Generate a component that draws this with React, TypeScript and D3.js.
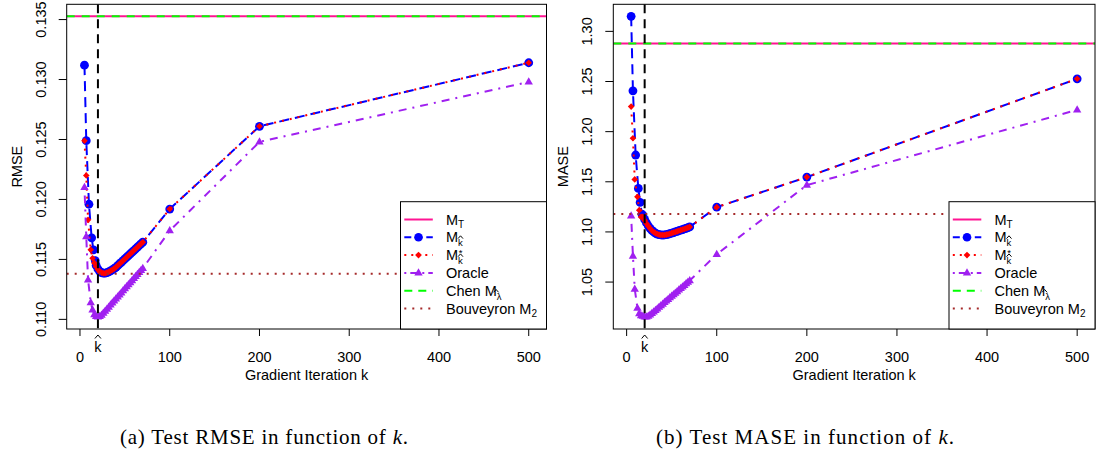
import React from "react";
import * as d3 from "d3";

// ---------------- data ----------------
const kSmallMk = [5, 7, 10, 13, 15, 17];
const kSmallMkStar = [5, 7, 9, 12, 14, 16];
const kSmallOracle = [5, 7, 9, 12, 14, 16];
const kDense = [18, 20, 22, 24, 26, 28, 30, 32, 34, 36, 38, 40, 42, 44, 46, 48, 50, 52, 54, 56, 58, 60, 62, 64, 66, 68, 70];
const kFar = [100, 200, 500];
const kHat = 20;
const xTicks = [0, 100, 200, 300, 400, 500];

// RMSE panel
const rmseMkSmall = [0.1312, 0.1249, 0.1196, 0.1168, 0.1158, 0.1149];
const rmseMkDense = [0.1145, 0.1142, 0.114, 0.1139, 0.11385, 0.11385, 0.1139, 0.11396, 0.11404, 0.11413, 0.11423, 0.11434, 0.11448, 0.11462, 0.11476, 0.1149, 0.11504, 0.11518, 0.11532, 0.11546, 0.1156, 0.11574, 0.11588, 0.11602, 0.11616, 0.1163, 0.11644];
const rmseMkFar = [0.1192, 0.1261, 0.1314];
const rmseMkStarSmall = [0.1249, 0.122, 0.1183, 0.1158, 0.1151, 0.1147];
const rmseMkStarDense = [0.1144, 0.11415, 0.11398, 0.1139, 0.11385, 0.11385, 0.1139, 0.11396, 0.11404, 0.11413, 0.11423, 0.11434, 0.11448, 0.11462, 0.11476, 0.1149, 0.11504, 0.11518, 0.11532, 0.11546, 0.1156, 0.11574, 0.11588, 0.11602, 0.11616, 0.1163, 0.11644];
const rmseMkStarFar = [0.1192, 0.1261, 0.1314];
const rmseOracleSmall = [0.121, 0.1169, 0.1133, 0.1114, 0.1108, 0.1104];
const rmseOracleDense = [0.11025, 0.1102, 0.11025, 0.11035, 0.11052, 0.11069, 0.11086, 0.11103, 0.1112, 0.11137, 0.11154, 0.11171, 0.11188, 0.11205, 0.11222, 0.11239, 0.11256, 0.11273, 0.1129, 0.11307, 0.11324, 0.11341, 0.11358, 0.11375, 0.11392, 0.11409, 0.11426];
const rmseOracleFar = [0.1174, 0.1248, 0.1298];
const rmseMT = 0.13527;
const rmseChen = 0.13527;
const rmseBouveyron = 0.1138;
const rmseTicks = [0.11, 0.115, 0.12, 0.125, 0.13, 0.135];

// MASE panel
const maseMkSmall = [1.315, 1.2407, 1.1767, 1.1434, 1.1294, 1.1177];
const maseMkDense = [1.1165, 1.1125, 1.109, 1.106, 1.1035, 1.1015, 1.1, 1.0988, 1.0979, 1.0973, 1.097, 1.0969, 1.097, 1.0973, 1.0977, 1.0982, 1.0988, 1.0994, 1.1, 1.1006, 1.1012, 1.1018, 1.1024, 1.103, 1.1036, 1.1043, 1.105];
const maseMkFar = [1.1247, 1.1547, 1.2527];
const maseMkStarSmall = [1.225, 1.1934, 1.1524, 1.135, 1.1217, 1.115];
const maseMkStarDense = [1.115, 1.1115, 1.1085, 1.1058, 1.1035, 1.1015, 1.1, 1.0988, 1.0979, 1.0973, 1.097, 1.0969, 1.097, 1.0973, 1.0977, 1.0982, 1.0988, 1.0994, 1.1, 1.1006, 1.1012, 1.1018, 1.1024, 1.103, 1.1036, 1.1043, 1.105];
const maseMkStarFar = [1.1247, 1.1547, 1.2527];
const maseOracleSmall = [1.116, 1.076, 1.043, 1.024, 1.0185, 1.0165];
const maseOracleDense = [1.016, 1.0152, 1.0152, 1.016, 1.0172, 1.0188, 1.0203, 1.0219, 1.0234, 1.025, 1.0266, 1.0281, 1.0297, 1.0312, 1.0328, 1.0344, 1.0359, 1.0375, 1.039, 1.0406, 1.0422, 1.0437, 1.0453, 1.0468, 1.0484, 1.05, 1.0515];
const maseOracleFar = [1.0777, 1.1467, 1.2217];
const maseMT = 1.288;
const maseChen = 1.288;
const maseBouveyron = 1.118;
const maseTicks = [1.05, 1.1, 1.15, 1.2, 1.25, 1.3];

// ---------------- styles ----------------
const COL_MT = "#FF1493";
const COL_MK = "#0000FF";
const COL_MKS = "#FF0000";
const COL_OR = "#A020F0";
const COL_CHEN = "#00FF00";
const COL_BOUV = "#A52A2A";
const SANS = "'Liberation Sans', Arial, Helvetica, sans-serif";
const SERIF = "'Liberation Serif', 'Times New Roman', serif";

type Pt = [number, number];
const zip = (ks: number[], vs: number[]): Pt[] => ks.map((k, i) => [k, vs[i]] as Pt);

const diamond = (cx: number, cy: number, r: number) =>
  `M${cx},${cy - r}L${cx + r},${cy}L${cx},${cy + r}L${cx - r},${cy}Z`;
const triangle = (cx: number, cy: number, s: number) =>
  `M${cx},${cy - s * 1.05}L${cx + s * 0.95},${cy + s * 0.6}L${cx - s * 0.95},${cy + s * 0.6}Z`;
const hat = (cx: number, top: number, w: number, h: number) =>
  `M${cx - w / 2},${top + h}L${cx},${top}L${cx + w / 2},${top + h}`;

interface PanelProps {
  id: string;
  x0: number; x1: number; y0: number; y1: number;
  mk: Pt[]; mks: Pt[]; oracle: Pt[];
  mT: number; chen: number; bouv: number;
  yTicks: number[]; yDigits: number; yLabel: string;
}

function Legend({ bx, by, bw, bh }: { bx: number; by: number; bw: number; bh: number }) {
  const step = 17.8;
  const r0 = by + 17.8;
  const lx0 = bx + 3.8, lx1 = bx + 32.3, sx = bx + 18, tx = bx + 45.5;
  const fs = 14.5;
  const mw = 12.1; // width of "M"
  const rows = [0, 1, 2, 3, 4, 5].map((i) => r0 + i * step);
  const chenW = 47.5; // width of "Chen M"
  return (
    <g>
      <rect x={bx} y={by} width={bw} height={bh} fill="#fff" stroke="#000" strokeWidth={1} />
      {/* M_T */}
      <line x1={lx0} x2={lx1} y1={rows[0]} y2={rows[0]} stroke={COL_MT} strokeWidth={2} />
      <text x={tx} y={rows[0] + 5} fontSize={fs} fontFamily={SANS}>M<tspan fontSize={10} dy={3}>T</tspan></text>
      {/* M_khat */}
      <line x1={lx0} x2={lx1} y1={rows[1]} y2={rows[1]} stroke={COL_MK} strokeWidth={2} strokeDasharray="7,4" />
      <circle cx={sx} cy={rows[1]} r={4.3} fill={COL_MK} />
      <text x={tx} y={rows[1] + 5} fontSize={fs} fontFamily={SANS}>M<tspan fontSize={9.5} dy={3.5}>k</tspan></text>
      <path d={hat(tx + mw + 2.4, rows[1] - 1.5, 5, 2.8)} fill="none" stroke="#000" strokeWidth={1} />
      {/* M_khat* */}
      <line x1={lx0} x2={lx1} y1={rows[2]} y2={rows[2]} stroke={COL_MKS} strokeWidth={2} strokeDasharray="2,5" />
      <path d={diamond(sx, rows[2], 3.4)} fill={COL_MKS} />
      <text x={tx} y={rows[2] + 5} fontSize={fs} fontFamily={SANS}>M<tspan fontSize={9.5} dy={3.8}>k</tspan></text>
      <path d={hat(tx + mw + 2.4, rows[2] - 1.2, 5, 2.8)} fill="none" stroke="#000" strokeWidth={1} />
      <text x={tx + mw + 2.6} y={rows[2] + 0.8} fontSize={9.5} fontFamily={SANS} textAnchor="middle">*</text>
      {/* Oracle */}
      <line x1={lx0} x2={lx1} y1={rows[3]} y2={rows[3]} stroke={COL_OR} strokeWidth={2} strokeDasharray="2,4,8,4" />
      <path d={triangle(sx, rows[3], 4.4)} fill={COL_OR} />
      <text x={tx} y={rows[3] + 5} fontSize={fs} fontFamily={SANS}>Oracle</text>
      {/* Chen */}
      <line x1={lx0} x2={lx1} y1={rows[4]} y2={rows[4]} stroke={COL_CHEN} strokeWidth={2} strokeDasharray="8,6" />
      <text x={tx} y={rows[4] + 5} fontSize={fs} fontFamily={SANS}>Chen M<tspan fontSize={9.5} dy={3.8}>λ</tspan></text>
      <path d={hat(tx + chenW + 2.6, rows[4] - 1.2, 5, 2.8)} fill="none" stroke="#000" strokeWidth={1} />
      {/* Bouveyron */}
      <line x1={lx0} x2={lx1} y1={rows[5]} y2={rows[5]} stroke={COL_BOUV} strokeWidth={2} strokeDasharray="2,6" />
      <text x={tx} y={rows[5] + 5} fontSize={fs} fontFamily={SANS}>Bouveyron M<tspan fontSize={10} dy={3}>2</tspan></text>
    </g>
  );
}

function Panel(p: PanelProps) {
  const { x0, x1, y0, y1 } = p;
  const allK = [...p.mk, ...p.mks, ...p.oracle].map((d) => d[0]);
  const [kmin, kmax] = d3.extent(allK) as [number, number];
  const kpad = (kmax - kmin) * 0.04;
  const x = d3.scaleLinear().domain([kmin - kpad, kmax + kpad]).range([x0, x1]);
  const allV = [...p.mk, ...p.mks, ...p.oracle].map((d) => d[1]).concat([p.mT, p.chen, p.bouv]);
  const [vmin, vmax] = d3.extent(allV) as [number, number];
  const vpad = (vmax - vmin) * 0.04;
  const y = d3.scaleLinear().domain([vmin - vpad, vmax + vpad]).range([y1, y0]);
  const line = d3.line<Pt>().x((d) => x(d[0])).y((d) => y(d[1]));
  const fmt = d3.format(`.${p.yDigits}f`);
  const clip = `clip-${p.id}`;
  const cx = (x0 + x1) / 2;
  const cy = (y0 + y1) / 2;
  return (
    <g>
      <defs>
        <clipPath id={clip}>
          <rect x={x0} y={y0} width={x1 - x0} height={y1 - y0} />
        </clipPath>
      </defs>
      <g clipPath={`url(#${clip})`}>
        {/* series M_khat */}
        <path d={line(p.mk) || ""} fill="none" stroke={COL_MK} strokeWidth={2} strokeDasharray="10,6" />
        {p.mk.map((d, i) => (
          <circle key={`mk${i}`} cx={x(d[0])} cy={y(d[1])} r={4.4} fill={COL_MK} />
        ))}
        {/* series M_khat* */}
        <path d={line(p.mks) || ""} fill="none" stroke={COL_MKS} strokeWidth={2} strokeDasharray="2,6" />
        {p.mks.map((d, i) => (
          <path key={`mks${i}`} d={diamond(x(d[0]), y(d[1]), 3.3)} fill={COL_MKS} />
        ))}
        {/* Oracle */}
        <path d={line(p.oracle) || ""} fill="none" stroke={COL_OR} strokeWidth={2} strokeDasharray="2,6,8,6" />
        {p.oracle.map((d, i) => (
          <path key={`or${i}`} d={triangle(x(d[0]), y(d[1]), 4.4)} fill={COL_OR} />
        ))}
        {/* horizontal references */}
        <line x1={x0} x2={x1} y1={y(p.mT)} y2={y(p.mT)} stroke={COL_MT} strokeWidth={2} />
        <line x1={x0} x2={x1} y1={y(p.chen)} y2={y(p.chen)} stroke={COL_CHEN} strokeWidth={2} strokeDasharray="8,7" />
        <line x1={x0} x2={x1} y1={y(p.bouv)} y2={y(p.bouv)} stroke={COL_BOUV} strokeWidth={2} strokeDasharray="2,6" />
        {/* k hat */}
        <line x1={x(kHat)} x2={x(kHat)} y1={y0} y2={y1} stroke="#000" strokeWidth={2} strokeDasharray="9,6" />
      </g>
      <rect x={x0} y={y0} width={x1 - x0} height={y1 - y0} fill="none" stroke="#000" strokeWidth={1} />
      {/* x axis */}
      {xTicks.map((t) => (
        <g key={`xt${t}`}>
          <line x1={x(t)} x2={x(t)} y1={y1} y2={y1 + 7} stroke="#000" strokeWidth={1} />
          <text x={x(t)} y={y1 + 33} fontSize={14.5} fontFamily={SANS} textAnchor="middle">{t}</text>
        </g>
      ))}
      <path d={hat(x(kHat), y1 + 6, 6, 3.5)} fill="none" stroke="#000" strokeWidth={1} />
      <text x={x(kHat)} y={y1 + 23} fontSize={14.5} fontFamily={SANS} textAnchor="middle">k</text>
      <text x={cx} y={y1 + 51} fontSize={14.5} fontFamily={SANS} textAnchor="middle">Gradient Iteration k</text>
      {/* y axis */}
      {p.yTicks.map((t) => (
        <g key={`yt${t}`}>
          <line x1={x0 - 8} x2={x0} y1={y(t)} y2={y(t)} stroke="#000" strokeWidth={1} />
          <text transform={`translate(${x0 - 21},${y(t)}) rotate(-90)`} fontSize={14.5} fontFamily={SANS} textAnchor="middle">{fmt(t)}</text>
        </g>
      ))}
      <text transform={`translate(${x0 - 45},${cy}) rotate(-90)`} fontSize={14.5} fontFamily={SANS} textAnchor="middle">{p.yLabel}</text>
      <Legend bx={x1 - 146} by={201.7} bw={146} bh={y1 - 201.7} />
    </g>
  );
}

export default function App() {
  const rmseMk = [...zip(kSmallMk, rmseMkSmall), ...zip(kDense, rmseMkDense), ...zip(kFar, rmseMkFar)];
  const rmseMks = [...zip(kSmallMkStar, rmseMkStarSmall), ...zip(kDense, rmseMkStarDense), ...zip(kFar, rmseMkStarFar)];
  const rmseOr = [...zip(kSmallOracle, rmseOracleSmall), ...zip(kDense, rmseOracleDense), ...zip(kFar, rmseOracleFar)];
  const maseMk = [...zip(kSmallMk, maseMkSmall), ...zip(kDense, maseMkDense), ...zip(kFar, maseMkFar)];
  const maseMks = [...zip(kSmallMkStar, maseMkStarSmall), ...zip(kDense, maseMkStarDense), ...zip(kFar, maseMkStarFar)];
  const maseOr = [...zip(kSmallOracle, maseOracleSmall), ...zip(kDense, maseOracleDense), ...zip(kFar, maseOracleFar)];
  return (
    <svg width={1096} height={459} style={{ position: "absolute", left: 0, top: 0, background: "#fff" }}>
      <rect x={0} y={0} width={1096} height={459} fill="#fff" />
      <Panel id="rmse" x0={66.7} x1={546.5} y0={4.3} y1={329} mk={rmseMk} mks={rmseMks} oracle={rmseOr}
        mT={rmseMT} chen={rmseChen} bouv={rmseBouveyron} yTicks={rmseTicks} yDigits={3} yLabel="RMSE" />
      <Panel id="mase" x0={613.3} x1={1095} y0={4.3} y1={329} mk={maseMk} mks={maseMks} oracle={maseOr}
        mT={maseMT} chen={maseChen} bouv={maseBouveyron} yTicks={maseTicks} yDigits={2} yLabel="MASE" />
      <text x={120} y={444} fontSize={21} fontFamily={SERIF} textLength={288} lengthAdjust="spacing">(a) Test RMSE in function of <tspan fontStyle="italic">k</tspan>.</text>
      <text x={656} y={444} fontSize={21} fontFamily={SERIF} textLength={298} lengthAdjust="spacing">(b) Test MASE in function of <tspan fontStyle="italic">k</tspan>.</text>
    </svg>
  );
}
